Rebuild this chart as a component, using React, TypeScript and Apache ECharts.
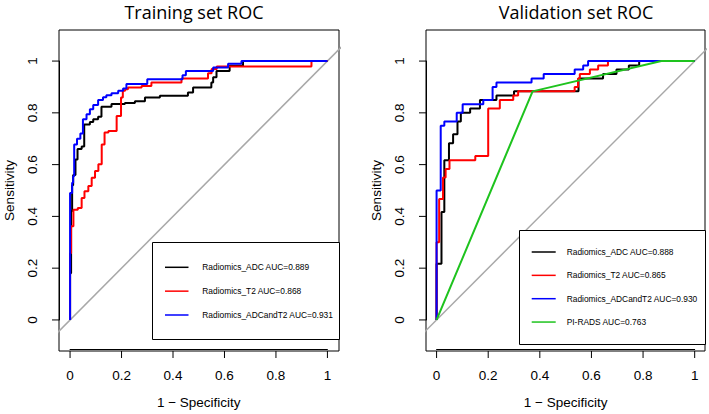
import React, { useEffect, useRef } from "react";
import * as echarts from "echarts";

const tickValues = [0, 0.2, 0.4, 0.6, 0.8, 1];
const tickLabels = ["0", "0.2", "0.4", "0.6", "0.8", "1"];
const titles = ["Training set ROC", "Validation set ROC"];
const xAxisName = "1 − Specificity";
const yAxisName = "Sensitivity";
const diagonal = [[-0.2, -0.2], [1.3, 1.3]];

// Training set ROC points [1 - specificity, sensitivity]
const trainAdc = [[0,0],[0,0.18],[0.004,0.18],[0.004,0.42],[0.008,0.42],[0.008,0.52],[0.012,0.52],[0.012,0.56],[0.021,0.56],[0.021,0.62],[0.029,0.62],[0.029,0.66],[0.045,0.66],[0.045,0.67],[0.055,0.67],[0.055,0.755],[0.077,0.755],[0.077,0.765],[0.09,0.765],[0.09,0.775],[0.109,0.775],[0.109,0.785],[0.122,0.785],[0.122,0.824],[0.161,0.824],[0.161,0.834],[0.213,0.834],[0.213,0.838],[0.252,0.838],[0.252,0.845],[0.291,0.845],[0.291,0.859],[0.349,0.859],[0.349,0.866],[0.458,0.866],[0.458,0.879],[0.478,0.879],[0.478,0.898],[0.549,0.898],[0.549,0.917],[0.556,0.917],[0.556,0.937],[0.569,0.937],[0.569,0.962],[0.62,0.962],[0.62,0.982],[0.672,0.982],[0.672,1],[1,1]];
const trainT2 = [[0,0],[0,0.258],[0.004,0.258],[0.004,0.362],[0.013,0.362],[0.013,0.426],[0.03,0.426],[0.03,0.432],[0.045,0.432],[0.045,0.471],[0.056,0.471],[0.056,0.497],[0.071,0.497],[0.071,0.517],[0.084,0.517],[0.084,0.549],[0.097,0.549],[0.097,0.575],[0.11,0.575],[0.11,0.601],[0.123,0.601],[0.123,0.678],[0.134,0.678],[0.134,0.724],[0.149,0.724],[0.149,0.73],[0.181,0.73],[0.181,0.788],[0.198,0.788],[0.198,0.859],[0.205,0.859],[0.205,0.885],[0.214,0.885],[0.214,0.891],[0.225,0.891],[0.225,0.898],[0.278,0.898],[0.278,0.904],[0.316,0.904],[0.316,0.917],[0.433,0.917],[0.433,0.933],[0.536,0.933],[0.536,0.953],[0.55,0.953],[0.55,0.969],[0.57,0.969],[0.57,0.979],[0.938,0.979],[0.938,1],[1,1]];
const trainBoth = [[0,0],[0,0.49],[0.008,0.49],[0.008,0.53],[0.012,0.53],[0.012,0.555],[0.016,0.555],[0.016,0.678],[0.027,0.678],[0.027,0.7],[0.04,0.7],[0.04,0.72],[0.05,0.72],[0.05,0.775],[0.064,0.775],[0.064,0.795],[0.077,0.795],[0.077,0.814],[0.09,0.814],[0.09,0.83],[0.109,0.83],[0.109,0.85],[0.128,0.85],[0.128,0.86],[0.141,0.86],[0.141,0.868],[0.161,0.868],[0.161,0.876],[0.187,0.876],[0.187,0.885],[0.206,0.885],[0.206,0.894],[0.219,0.894],[0.219,0.911],[0.3,0.911],[0.3,0.93],[0.437,0.93],[0.437,0.945],[0.45,0.945],[0.45,0.962],[0.556,0.962],[0.556,0.975],[0.614,0.975],[0.614,0.99],[0.666,0.99],[0.666,1],[1,1]];

// Validation set ROC points
const valAdc = [[0,0],[0,0.217],[0.019,0.217],[0.019,0.417],[0.03,0.417],[0.03,0.617],[0.048,0.617],[0.048,0.683],[0.064,0.683],[0.064,0.717],[0.081,0.717],[0.081,0.767],[0.094,0.767],[0.094,0.8],[0.13,0.8],[0.13,0.817],[0.168,0.817],[0.168,0.85],[0.232,0.85],[0.232,0.867],[0.3,0.867],[0.3,0.883],[0.55,0.883],[0.55,0.933],[0.645,0.933],[0.645,0.95],[0.697,0.95],[0.697,0.967],[0.745,0.967],[0.745,0.983],[0.785,0.983],[0.785,1],[1,1]];
const valT2 = [[0,0],[0,0.3],[0.01,0.3],[0.01,0.467],[0.025,0.467],[0.025,0.55],[0.035,0.55],[0.035,0.583],[0.05,0.583],[0.05,0.617],[0.15,0.617],[0.15,0.633],[0.2,0.633],[0.2,0.817],[0.245,0.817],[0.245,0.85],[0.297,0.85],[0.297,0.867],[0.316,0.867],[0.316,0.883],[0.535,0.883],[0.535,0.9],[0.548,0.9],[0.548,0.933],[0.555,0.933],[0.555,0.95],[0.594,0.95],[0.594,0.967],[0.626,0.967],[0.626,0.983],[0.664,0.983],[0.664,1],[1,1]];
const valBoth = [[0,0],[0,0.5],[0.016,0.5],[0.016,0.75],[0.03,0.75],[0.03,0.767],[0.078,0.767],[0.078,0.8],[0.101,0.8],[0.101,0.833],[0.181,0.833],[0.181,0.85],[0.217,0.85],[0.217,0.9],[0.232,0.9],[0.232,0.917],[0.368,0.917],[0.368,0.933],[0.415,0.933],[0.415,0.95],[0.535,0.95],[0.535,0.967],[0.568,0.967],[0.568,0.983],[0.587,0.983],[0.587,1],[1,1]];
const valPirads = [[0,0],[0.372,0.883],[0.871,1],[1,1]];

const trainNames = ["Radiomics_ADC AUC=0.889", "Radiomics_T2 AUC=0.868", "Radiomics_ADCandT2 AUC=0.931"];
const valNames = ["Radiomics_ADC AUC=0.888", "Radiomics_T2 AUC=0.865", "Radiomics_ADCandT2 AUC=0.930", "PI-RADS AUC=0.763"];
const colors = ["#000000", "#ff0000", "#0000ff", "#1ec31e"];

const trainCurves = [trainAdc, trainT2, trainBoth];
const valCurves = [valAdc, valT2, valBoth, valPirads];

const FONT = "'Liberation Sans', Arial, sans-serif";
const TICK_LEN = 7;

export default function App() {
  const ref = useRef<HTMLDivElement>(null);
  useEffect(() => {
    if (!ref.current) return;
    const chart = echarts.init(ref.current, undefined, { renderer: "svg" });
    const panels = [
      { left: 59, top: 30, width: 280, height: 321, xr: [-0.043, 1.045] },
      { left: 426, top: 30, width: 279, height: 321, xr: [-0.041, 1.04] },
    ];
    const yr = [-0.12, 1.12];
    const fmt = (v: number) => tickLabels[Math.round(v * 5)] ?? "";
    const textStyle = { fontSize: 13.5, fontFamily: FONT, color: "#000" };
    const lineSt = { color: "#000", width: 1 };

    const grids: any[] = [];
    const xAxes: any[] = [];
    const yAxes: any[] = [];
    const hidden = { show: false };
    const series: any[] = [];
    const mainGrids: number[] = [];

    panels.forEach((p) => {
      const gi = grids.length;
      mainGrids.push(gi);
      grids.push({ left: p.left, top: p.top, width: p.width, height: p.height, show: true,
        borderColor: "#000", borderWidth: 1, backgroundColor: "transparent" });
      xAxes.push({ type: "value", gridIndex: gi, min: p.xr[0], max: p.xr[1], ...hidden });
      yAxes.push({ type: "value", gridIndex: gi, min: yr[0], max: yr[1], ...hidden });

      const ux = p.width / (p.xr[1] - p.xr[0]);
      const gx = grids.length;
      grids.push({ left: p.left - p.xr[0] * ux, width: ux, top: p.top, height: p.height, show: false });
      xAxes.push({
        type: "value", gridIndex: gx, min: 0, max: 1, interval: 0.2, position: "bottom",
        axisLine: { show: true, onZero: false, lineStyle: lineSt }, splitLine: { show: false },
        axisTick: { show: false },
        axisLabel: { show: true, margin: 19, formatter: fmt, ...textStyle },
        name: xAxisName, nameLocation: "middle", nameGap: 46, nameTextStyle: textStyle,
      });
      yAxes.push({ type: "value", gridIndex: gx, min: 0, max: 1, ...hidden });

      const uy = p.height / (yr[1] - yr[0]);
      const gy = grids.length;
      grids.push({ left: p.left, width: p.width, top: p.top + (yr[1] - 1) * uy, height: uy, show: false });
      xAxes.push({ type: "value", gridIndex: gy, min: 0, max: 1, ...hidden });
      yAxes.push({
        type: "value", gridIndex: gy, min: 0, max: 1, interval: 0.2, position: "left",
        axisLine: { show: true, onZero: false, lineStyle: lineSt }, splitLine: { show: false },
        axisTick: { show: false },
        axisLabel: { show: true, rotate: 90, margin: 20, formatter: fmt, ...textStyle },
        name: yAxisName, nameLocation: "middle", nameGap: 43, nameRotate: 90, nameTextStyle: textStyle,
      });

      // tick marks as small rect symbols placed on the panel's own scales
      series.push({
        type: "scatter", xAxisIndex: gi, yAxisIndex: gi, clip: false, silent: true, z: 20,
        data: tickValues.map((v) => [v, yr[0]]),
        symbol: "rect", symbolSize: [1, TICK_LEN], symbolOffset: [0, TICK_LEN / 2],
        itemStyle: { color: "#000", opacity: 1 },
      });
      series.push({
        type: "scatter", xAxisIndex: gi, yAxisIndex: gi, clip: false, silent: true, z: 20,
        data: tickValues.map((v) => [p.xr[0], v]),
        symbol: "rect", symbolSize: [TICK_LEN, 1], symbolOffset: [-TICK_LEN / 2, 0],
        itemStyle: { color: "#000", opacity: 1 },
      });
    });

    mainGrids.forEach((g) => {
      series.push({
        type: "line", xAxisIndex: g, yAxisIndex: g, data: diagonal, symbol: "none",
        lineStyle: { color: "#a8a8a8", width: 1.5 }, silent: true, clip: true,
      });
    });
    trainCurves.forEach((c, i) => series.push({
      name: trainNames[i], type: "line", xAxisIndex: mainGrids[0], yAxisIndex: mainGrids[0], data: c, symbol: "none",
      lineStyle: { color: colors[i], width: 2 }, clip: true,
    }));
    valCurves.forEach((c, i) => series.push({
      name: valNames[i], type: "line", xAxisIndex: mainGrids[1], yAxisIndex: mainGrids[1], data: c, symbol: "none",
      lineStyle: { color: colors[i], width: 2 }, clip: true,
    }));

    const legendEls: any[] = [];
    const legends = [
      { names: trainNames, box: { x: 152, y: 242, w: 187, h: 97 }, y0: 267.3, dy: 23.85, lx: 165, lw: 23.5, tx: 202.3 },
      { names: valNames, box: { x: 519, y: 230, w: 186, h: 114 }, y0: 252, dy: 23.35, lx: 531.7, lw: 24, tx: 566.7 },
    ];
    legends.forEach((L) => {
      legendEls.push({ type: "rect", shape: { x: L.box.x + 0.5, y: L.box.y + 0.5, width: L.box.w, height: L.box.h },
        style: { fill: "#fff", stroke: "#000", lineWidth: 1 }, z: 100 });
      L.names.forEach((n, i) => {
        const y = L.y0 + i * L.dy;
        legendEls.push({ type: "line", shape: { x1: L.lx, y1: y, x2: L.lx + L.lw, y2: y },
          style: { stroke: colors[i], lineWidth: 1.5 }, z: 101 });
        legendEls.push({ type: "text", x: L.tx, y, style: { text: n, fontSize: 8.4, fontFamily: FONT, fill: "#000",
          verticalAlign: "middle", align: "left" }, z: 101 });
      });
    });

    const titleStyle = { fontSize: 18, fontWeight: "normal", fontFamily: "'Open Sans', sans-serif", color: "#000" };
    chart.setOption({
      animation: false,
      backgroundColor: "#fff",
      title: [
        { text: titles[0], left: 194, top: 3, textAlign: "center", padding: 0, textStyle: titleStyle },
        { text: titles[1], left: 576, top: 3, textAlign: "center", padding: 0, textStyle: titleStyle },
      ],
      grid: grids,
      xAxis: xAxes,
      yAxis: yAxes,
      series,
      graphic: legendEls,
    });
    return () => chart.dispose();
  }, []);
  return <div ref={ref} style={{ position: "fixed", left: 0, top: 0, width: 709, height: 414 }} />;
}
